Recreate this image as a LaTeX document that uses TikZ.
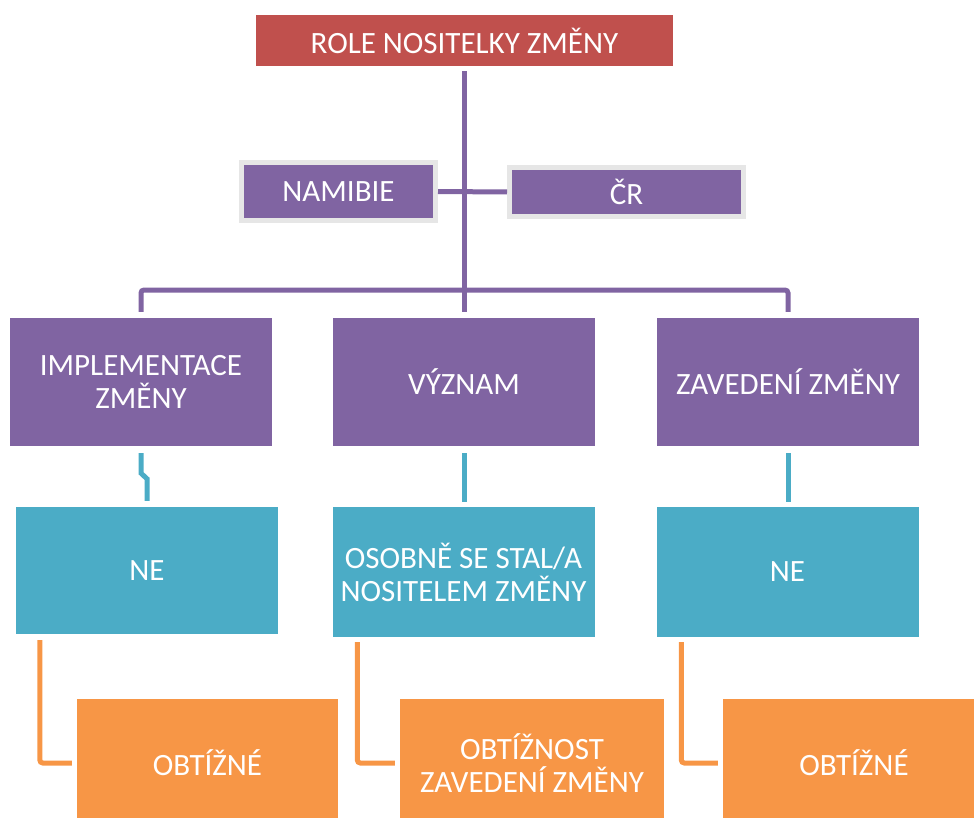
\documentclass[tikz,border=0pt]{standalone}
\usepackage{fontspec}
\setmainfont{Carlito}
\definecolor{rolered}{HTML}{C0504D}
\definecolor{rolepurple}{HTML}{8064A2}
\definecolor{rolecyan}{HTML}{4BACC6}
\definecolor{roleorange}{HTML}{F79646}
\definecolor{framegray}{HTML}{E6E6E6}
\tikzset{
  box/.style={rectangle, inner sep=0pt, text=white, align=center,
    font=\fontsize{31}{33}\selectfont},
  topbox/.style={box, fill=rolered, minimum width=417pt, minimum height=51pt},
  landbox/.style={box, fill=rolepurple, draw=framegray, line width=5pt},
  headbox/.style={box, fill=rolepurple, minimum width=262pt, minimum height=128pt},
  answerbox/.style={box, fill=rolecyan, minimum width=262pt, minimum height=130pt},
  resultbox/.style={box, fill=roleorange, minimum width=262pt, minimum height=128pt},
  link/.style={line width=5pt},
}
\begin{document}
\begin{tikzpicture}[x=1pt,y=-1pt]
\useasboundingbox (0,0) rectangle (974,818);
\clip (0,0) rectangle (974,818);

% top level
\node[topbox] (role) at (464.5,40.5) {ROLE NOSITELKY ZMĚNY};
\node[landbox, minimum width=194pt, minimum height=58pt] (namibie) at (338.5,191.5) {NAMIBIE};
\node[landbox, minimum width=234pt, minimum height=49pt] (cr) at (626.5,192) {ČR};

% second level
\node[headbox] (impl) at (141,382) {IMPLEMENTACE\\ZMĚNY};
\node[headbox] (vyznam) at (464,382) {VÝZNAM};
\node[headbox] (zaved) at (788,382) {ZAVEDENÍ ZMĚNY};

% answers
\node[answerbox, minimum height=127pt] (ne1) at (147,570.5) {NE};
\node[answerbox] (osob) at (463.5,572) {OSOBNĚ SE STAL/A\\NOSITELEM ZMĚNY};
\node[answerbox] (ne3) at (787.5,572) {NE};

% results
\node[resultbox, minimum width=261pt] (obt1) at (207.5,763) {OBTÍŽNÉ};
\node[resultbox, minimum width=264pt] (obt2) at (532,763) {OBTÍŽNOST\\ZAVEDENÍ ZMĚNY};
\node[resultbox] (obt3) at (854,763) {OBTÍŽNÉ};

\coordinate (bar) at (464,290);

% purple connectors
\draw[link, rolepurple, shorten <=5pt, shorten >=6pt] (role.south) -- (role.south |- vyznam.north);
\draw[link, rolepurple] (namibie.east) -- (cr.west);
\draw[link, rolepurple, rounded corners=3pt, shorten <=6pt, shorten >=6pt]
  (impl.north) |- (bar) -| (zaved.north);

% cyan connectors
\draw[link, rolecyan, shorten <=7pt, shorten >=6pt]
  (impl.south) -- ++(0,27) -- ([yshift=28pt]ne1.north) -- (ne1.north);
\draw[link, rolecyan, shorten <=7pt, shorten >=5pt] (vyznam.south) -- (vyznam.south |- osob.north);
\draw[link, rolecyan, shorten <=7pt, shorten >=5pt] (zaved.south) -- (zaved.south |- ne3.north);

% orange connectors
\draw[link, roleorange, rounded corners=3pt, shorten <=6pt, shorten >=5pt]
  ([xshift=24pt]ne1.south west) |- (obt1.west);
\draw[link, roleorange, rounded corners=3pt, shorten <=5pt, shorten >=5pt]
  ([xshift=25pt]osob.south west) |- (obt2.west);
\draw[link, roleorange, rounded corners=3pt, shorten <=5pt, shorten >=5pt]
  ([xshift=25pt]ne3.south west) |- (obt3.west);

\end{tikzpicture}
\end{document}
